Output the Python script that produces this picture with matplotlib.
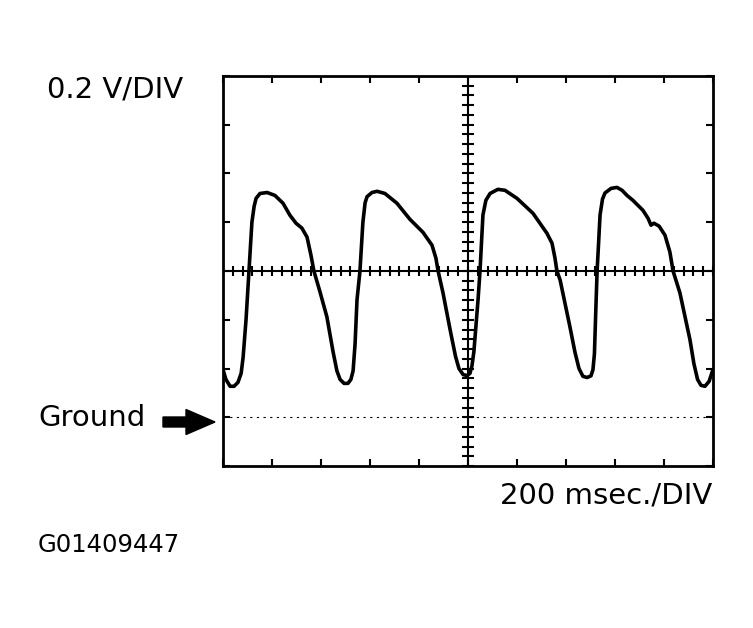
import numpy as np
import matplotlib.pyplot as plt
from matplotlib.patches import FancyArrow
from matplotlib.transforms import IdentityTransform

# trace: time (ms) and voltage (V, ground = 0)
time_ms = [0, 12, 29, 45, 61, 74, 82, 94, 106, 118, 127, 135, 151, 180, 212,
           245, 273, 298, 322, 343, 359, 371, 396, 424, 449, 465, 478, 494,
           510, 522, 531, 539, 547, 559, 571, 580, 588, 608, 629, 661, 710,
           763, 816, 853, 869, 878, 898, 927, 949, 963, 980, 996, 1008, 1016,
           1024, 1041, 1049, 1061, 1073, 1090, 1122, 1151, 1200, 1265, 1322,
           1343, 1355, 1363, 1376, 1416, 1437, 1453, 1469, 1486, 1502, 1510,
           1516, 1522, 1527, 1539, 1549, 1559, 1584, 1608, 1629, 1649, 1673,
           1714, 1735, 1747, 1759, 1780, 1804, 1824, 1837, 1865, 1906, 1922,
           1937, 1951, 1967, 1984, 2000]
volts = [0.196, 0.155, 0.127, 0.127, 0.143, 0.180, 0.245, 0.400, 0.600, 0.800,
         0.865, 0.898, 0.918, 0.922, 0.910, 0.878, 0.829, 0.796, 0.776, 0.739,
         0.665, 0.600, 0.514, 0.412, 0.270, 0.190, 0.155, 0.139, 0.139, 0.155,
         0.190, 0.300, 0.482, 0.600, 0.800, 0.880, 0.905, 0.922, 0.927, 0.918,
         0.878, 0.812, 0.759, 0.706, 0.653, 0.600, 0.510, 0.359, 0.250, 0.200,
         0.175, 0.171, 0.180, 0.210, 0.269, 0.482, 0.600, 0.830, 0.890, 0.918,
         0.935, 0.931, 0.898, 0.837, 0.755, 0.714, 0.653, 0.600, 0.563, 0.371,
         0.265, 0.200, 0.168, 0.163, 0.170, 0.195, 0.260, 0.450, 0.600, 0.830,
         0.895, 0.920, 0.939, 0.943, 0.931, 0.910, 0.890, 0.849, 0.816, 0.788,
         0.796, 0.784, 0.747, 0.678, 0.600, 0.510, 0.318, 0.220, 0.155, 0.131,
         0.127, 0.147, 0.196]

volt_div = 0.2    # V per division
time_div = 200    # ms per division
n_xdiv, n_ydiv = 10, 8
ground_div = 3    # ground sits 3 divisions below centre

plt.rcParams['font.family'] = ['DejaVu Sans']

fig = plt.figure(figsize=(7.53, 6.28), dpi=100)
ax = fig.add_axes([223 / 753, 162 / 628, 490 / 753, 390 / 628])

y_lo = -volt_div * (n_ydiv / 2 - ground_div)
y_hi = y_lo + n_ydiv * volt_div
x_hi = n_xdiv * time_div
y_mid = (y_lo + y_hi) / 2
x_mid = x_hi / 2
ax.set_xlim(0, x_hi)
ax.set_ylim(y_lo, y_hi)

for s in ax.spines.values():
    s.set_linewidth(2)
ax.set_xticks(np.arange(0, x_hi + 1, time_div))
ax.set_yticks(np.arange(y_lo, y_hi + 0.001, volt_div))
ax.tick_params(direction='in', length=5, width=1.5, top=True, right=True,
               labelbottom=False, labelleft=False)

# crosshair with graduations
ax.axhline(y_mid, color='black', lw=1.5)
ax.axvline(x_mid, color='black', lw=1.5)
minor_x = np.arange(0, x_hi + 1, time_div / 5)
minor_y = np.arange(y_lo, y_hi + 0.001, volt_div / 5)
ax.plot(minor_x, np.full(len(minor_x), y_mid), ls='none', marker='|',
        ms=7, mew=1.5, color='black')
ax.plot(np.full(len(minor_y), x_mid), minor_y, ls='none', marker='_',
        ms=9, mew=1.5, color='black')

# ground reference
ax.axhline(0, color='black', lw=0.8, ls=(0, (2, 4)))

ax.plot(time_ms, volts, color='black', lw=2.6, solid_joinstyle='round',
        solid_capstyle='round')

fig.text(47 / 753, 1 - 98 / 628, "0.2 V/DIV", fontsize=21, va='baseline')
fig.text(38 / 753, 1 - 426 / 628, "Ground", fontsize=21, va='baseline')
fig.text(712 / 753, 1 - 503 / 628, "200 msec./DIV", fontsize=21,
         va='baseline', ha='right')
fig.text(38 / 753, 1 - 552 / 628, "G01409447", fontsize=17.5, va='baseline')

arrow = FancyArrow(163, 628 - 422, 52, 0, width=10, head_width=25,
                   head_length=29, length_includes_head=True,
                   color='black', transform=IdentityTransform())
fig.add_artist(arrow)

fig.savefig("out.png", dpi=100)
